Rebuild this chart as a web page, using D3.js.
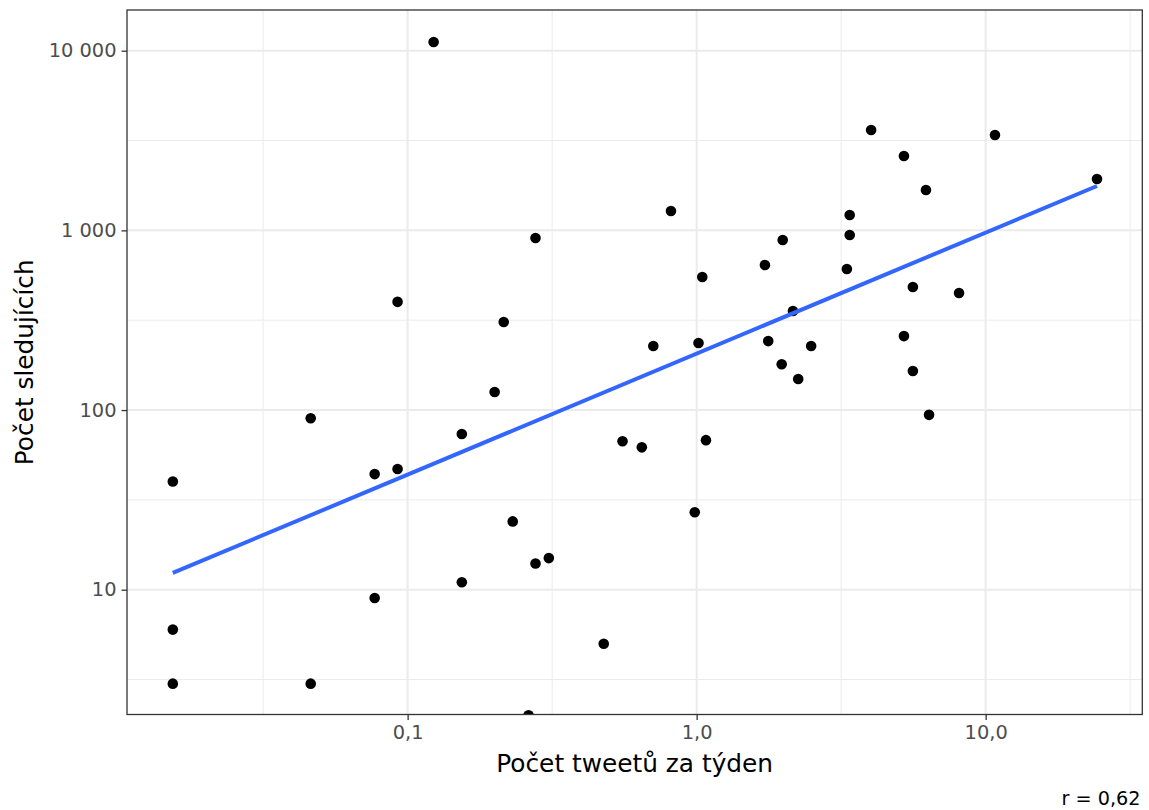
<!DOCTYPE html>
<html>
<head>
<meta charset="utf-8">
<script src="https://cdn.jsdelivr.net/npm/d3@7"></script>
<style>
  body { margin: 0; background: #fff; }
  text { font-family: "DejaVu Sans", sans-serif; }
</style>
</head>
<body>
<svg id="svg1" width="1149" height="810"></svg>
<script>
// tweets per week (x) and followers (y)
const tweets = [0.0154, 0.0154, 0.0154, 0.0462, 0.0462, 0.0769, 0.0769, 0.0923, 0.0923, 0.123,
  0.154, 0.154, 0.2, 0.215, 0.231, 0.262, 0.277, 0.277, 0.308, 0.477,
  0.554, 0.646, 0.708, 0.815, 0.985, 1.015, 1.046, 1.077, 1.723, 1.769,
  1.985, 1.969, 2.154, 2.246, 2.49, 3.31, 3.385, 3.385, 4.015, 5.215,
  5.215, 5.6, 5.6, 6.215, 6.37, 8.09, 10.77, 24.28];
const followers = [40, 6, 3, 90, 3, 44, 9, 400, 47, 11180,
  73.6, 11, 126, 309, 24, 2, 907, 14, 15, 5,
  67, 62, 227, 1282, 27, 236, 550, 68, 642, 242,
  884, 180, 356, 149, 227, 610, 1218, 943, 3621, 2594,
  258, 484, 165, 1678, 94, 448, 3396, 1932];

// lm fit line (geom_smooth), end points
const fitTweets = [0.0154, 24.28];
const fitFollowers = [12.4, 1766];

const xMajor = [0.1, 1, 10];
const xMajorLabels = ["0,1", "1,0", "10,0"];
const xMinor = [Math.pow(10, -1.5), Math.pow(10, -0.5), Math.pow(10, 0.5), Math.pow(10, 1.5)];
const yMajor = [10, 100, 1000, 10000];
const yMajorLabels = ["10", "100", "1 000", "10 000"];
const yMinor = [Math.pow(10, 0.5), Math.pow(10, 1.5), Math.pow(10, 2.5), Math.pow(10, 3.5)];

const xTitle = "Počet tweetů za týden";
const yTitle = "Počet sledujících";
const caption = "r = 0,62";

const svg1 = d3.select("#svg1");
const width1 = +svg1.attr("width");
const height1 = +svg1.attr("height");
const margin = { top: 10, right: 6.7, bottom: 95.5, left: 127 };
const innerWidth = width1 - margin.left - margin.right;
const innerHeight = height1 - margin.top - margin.bottom;

const data = tweets.map((t, i) => ({ x: t, y: followers[i] }));
const fit = fitTweets.map((t, i) => ({ x: t, y: fitFollowers[i] }));

/* log scales, the domain includes ggplot's 5% padding */
const xScale = d3.scaleLog()
  .domain([Math.pow(10, -1.971), Math.pow(10, 1.542)])
  .range([0, innerWidth]);
const yScale = d3.scaleLog()
  .domain([Math.pow(10, 0.3055), Math.pow(10, 4.2265)])
  .range([innerHeight, 0]);

const a = svg1.append("g")
  .attr("transform", `translate(${margin.left}, ${margin.top})`);

a.append("clipPath").attr("id", "panel")
  .append("rect").attr("width", innerWidth).attr("height", innerHeight);

// grid
a.selectAll(".xminor").data(xMinor).enter().append("line")
  .attr("x1", d => xScale(d)).attr("x2", d => xScale(d))
  .attr("y1", 0).attr("y2", innerHeight)
  .attr("stroke", "#ebebeb").attr("stroke-width", 1);
a.selectAll(".yminor").data(yMinor).enter().append("line")
  .attr("y1", d => yScale(d)).attr("y2", d => yScale(d))
  .attr("x1", 0).attr("x2", innerWidth)
  .attr("stroke", "#ebebeb").attr("stroke-width", 1);
a.selectAll(".xmajor").data(xMajor).enter().append("line")
  .attr("x1", d => xScale(d)).attr("x2", d => xScale(d))
  .attr("y1", 0).attr("y2", innerHeight)
  .attr("stroke", "#ebebeb").attr("stroke-width", 2);
a.selectAll(".ymajor").data(yMajor).enter().append("line")
  .attr("y1", d => yScale(d)).attr("y2", d => yScale(d))
  .attr("x1", 0).attr("x2", innerWidth)
  .attr("stroke", "#ebebeb").attr("stroke-width", 2);

const plot = a.append("g").attr("clip-path", "url(#panel)");

plot.selectAll("circle").data(data)
  .enter().append("circle")
    .attr("cx", d => xScale(d.x))
    .attr("cy", d => yScale(d.y))
    .attr("r", 5.3)
    .attr("fill", "black");

plot.append("path").datum(fit)
  .attr("d", d3.line().x(d => xScale(d.x)).y(d => yScale(d.y)))
  .attr("fill", "none")
  .attr("stroke", "#3366ff")
  .attr("stroke-width", 4);

// panel border
a.append("rect")
  .attr("width", innerWidth).attr("height", innerHeight)
  .attr("fill", "none").attr("stroke", "#333333").attr("stroke-width", 1.3);

// axes
const xAxis = d3.axisBottom(xScale)
  .tickValues(xMajor)
  .tickFormat((d, i) => xMajorLabels[i])
  .tickSize(5.5).tickPadding(5);
const xAxisA = a.append("g").call(xAxis)
  .attr("transform", `translate(0, ${innerHeight})`);

const yAxis = d3.axisLeft(yScale)
  .tickValues(yMajor)
  .tickFormat((d, i) => yMajorLabels[i])
  .tickSize(5.5).tickPadding(5);
const yAxisA = a.append("g").call(yAxis);

[xAxisA, yAxisA].forEach(g => {
  g.select(".domain").remove();
  g.selectAll(".tick line").attr("stroke", "#333333").attr("stroke-width", 1.3);
  g.selectAll(".tick text")
    .attr("fill", "#4d4d4d")
    .style("font-size", "19.4px")
    .style("font-family", "DejaVu Sans");
});

svg1.append("text")
  .attr("x", margin.left + innerWidth / 2)
  .attr("y", 771.5)
  .attr("text-anchor", "middle")
  .style("font-size", "24.8px")
  .text(xTitle);

svg1.append("text")
  .attr("transform", `translate(33, ${margin.top + innerHeight / 2}) rotate(-90)`)
  .attr("text-anchor", "middle")
  .style("font-size", "24.8px")
  .text(yTitle);

svg1.append("text")
  .attr("x", 1140.5)
  .attr("y", 804.5)
  .attr("text-anchor", "end")
  .style("font-size", "19.2px")
  .text(caption);
</script>
</body>
</html>
